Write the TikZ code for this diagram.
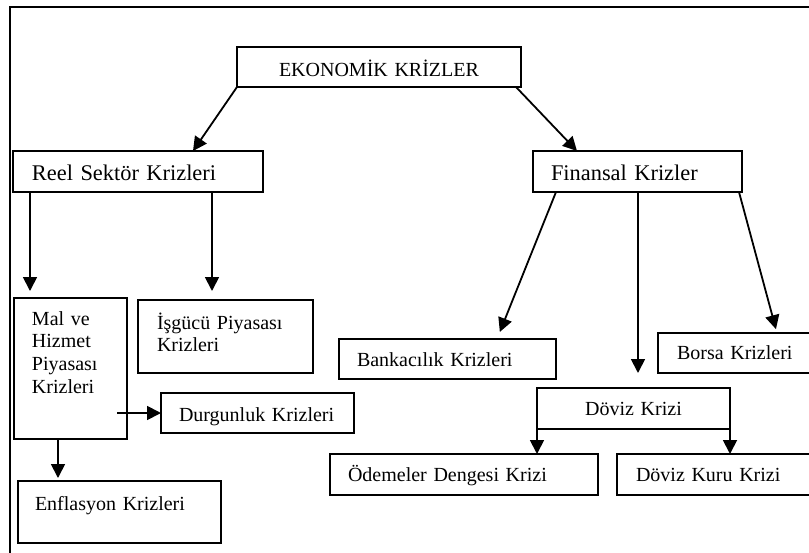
\documentclass[tikz,border=0pt]{standalone}
\usepackage{fontspec}
\setmainfont{Liberation Serif}
\usepackage{tikz}
\usetikzlibrary{calc}
\usetikzlibrary{arrows.meta}
\usetikzlibrary{positioning}

\tikzset{
  kutu/.style={draw, line width=0.9pt, inner ysep=0pt, outer sep=0pt, anchor=north west,
    align=left, font=\fontsize{10}{11.4}\selectfont},
  buyuk/.style={font=\fontsize{11.2}{13}\selectfont},
  ok/.style={-{Triangle[length=7pt, width=7pt]}, line width=0.9pt}
}

\begin{document}
\begin{tikzpicture}[x=0.5pt, y=-0.5pt]
\useasboundingbox (0,0) rectangle (809,552);
\clip (0,0) rectangle (809,552);
\draw [line width=0.9pt] (10,7) rectangle (840,600);

\node [kutu, align=center, inner xsep=0pt, text width=142pt, text height=14.5pt, text depth=5.5pt] (ek) at (237,47) {EKONOMİK KRİZLER};
\node [kutu, buyuk, inner xsep=9.5pt, text width=106pt, text height=14.5pt, text depth=6pt] (reel) at (13,151) {Reel Sektör Krizleri};
\node [kutu, buyuk, inner xsep=9pt, text width=86.5pt, text height=14.5pt, text depth=6pt] (fin) at (533,151) {Finansal Krizler};
\node [kutu, inner xsep=9pt, text width=38.5pt, text height=13.5pt, text depth=57pt] (mal) at (14,298) {Mal ve\\Hizmet\\Piyasası\\Krizleri};
\node [kutu, inner xsep=9.5pt, text width=68.5pt, text height=14.5pt, text depth=22pt] (isg) at (138,300) {İşgücü Piyasası\\Krizleri};
\node [kutu, inner xsep=9pt, text width=78.5pt, text height=14pt, text depth=6pt] (durg) at (161,393) {Durgunluk Krizleri};
\node [kutu, inner xsep=8.5pt, text width=84.5pt, text height=14.5pt, text depth=16.5pt] (enf) at (18,481) {Enflasyon Krizleri};
\node [kutu, inner xsep=9pt, text width=90.5pt, text height=13.5pt, text depth=6.5pt] (bank) at (339,339) {Bankacılık Krizleri};
\node [kutu, inner xsep=9.5pt, text width=71pt, text height=13pt, text depth=7pt] (borsa) at (658,333) {Borsa Krizleri};
\node [kutu, align=center, inner xsep=0pt, text width=96.5pt, text height=13.5pt, text depth=7pt] (dk) at (537,388) {Döviz Krizi};
\node [kutu, inner xsep=9pt, text width=116pt, text height=13.5pt, text depth=7pt] (od) at (330,454) {Ödemeler Dengesi Krizi};
\node [kutu, inner xsep=9.5pt, text width=91pt, text height=13.5pt, text depth=7pt] (dkur) at (617,454) {Döviz Kuru Krizi};

\draw [ok] (ek.south west) to ([xshift=90pt]reel.north west);
\draw [ok] ([xshift=-2.5pt]ek.south east) to ([xshift=22pt]fin.north west);
\draw [ok, shorten >=3.5pt] ([xshift=8.5pt]reel.south west) to ([xshift=8.5pt]reel.south west |- mal.north);
\draw [ok, shorten >=4.5pt] ([xshift=99.5pt]reel.south west) to ([xshift=99.5pt]reel.south west |- isg.north);
\draw [ok] ([xshift=-5pt]mal.east |- durg.west) to (durg.west);
\draw [ok, shorten >=1.5pt] ([xshift=22pt]mal.south west) to ([xshift=22pt]mal.south west |- enf.north);
\draw [ok, shorten >=3.8pt] ([xshift=11.5pt]fin.south west) to ([xshift=79pt]bank.north west);
\draw [ok, shorten >=7.5pt] ([xshift=0.25pt]fin.south) to ([xshift=0.25pt]fin.south |- dk.north);
\draw [ok, shorten >=2pt] ([xshift=-1.5pt]fin.south east) to ([xshift=59.5pt]borsa.north west);
\draw [ok] (dk.south west) to (dk.south west |- od.north);
\draw [ok] (dk.south east) to (dk.south east |- dkur.north);
\end{tikzpicture}
\end{document}
